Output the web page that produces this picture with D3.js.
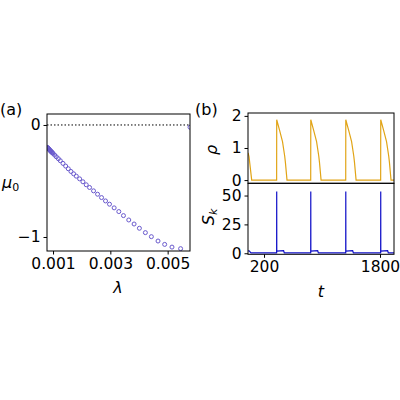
<!DOCTYPE html><html><head><script src="https://cdn.jsdelivr.net/npm/d3@7"></script>
<style>body{margin:0;background:#fff}text{font-family:"DejaVu Sans",sans-serif}</style></head><body>
<svg id="c" width="400" height="400"></svg>
<script>
const lam=[0.000800,0.000812,0.000826,0.000840,0.000855,0.000870,0.000884,0.000900,0.000915,0.000930,0.000942,0.000960,0.000980,0.001,0.001058,0.001116,0.001186,0.001255,0.001348,0.001441,0.001533,0.001626,0.001719,0.001812,0.001928,0.002043,0.002159,0.002275,0.002414,0.002554,0.002693,0.002832,0.002971,0.003133,0.003296,0.003458,0.003643,0.003829,0.004014,0.004223,0.004432,0.004664,0.004896,0.005151,0.005452,0.00578];
const mu=[-0.200,-0.203,-0.207,-0.211,-0.215,-0.219,-0.224,-0.228,-0.232,-0.236,-0.239,-0.244,-0.249,-0.254,-0.269,-0.284,-0.301,-0.319,-0.343,-0.367,-0.391,-0.415,-0.436,-0.457,-0.481,-0.507,-0.534,-0.558,-0.588,-0.618,-0.648,-0.678,-0.707,-0.740,-0.773,-0.809,-0.848,-0.884,-0.922,-0.961,-0.997,-1.036,-1.066,-1.090,-1.104,-0.02];
const lamTicks=[0.001,0.003,0.005], muTicks=[0,-1];
const tRho=[-20,-7,30,374,375,415,455,485,495,517,844,845,885,925,955,965,987,1327,1328,1368,1408,1438,1448,1470,1809,1810,1850,1890,1920,1930,1952,1995];
const rho=[0.85,0.73,0,0,1.88,1.55,1.2,0.75,0.55,0,0,1.88,1.55,1.2,0.75,0.55,0,0,1.88,1.55,1.2,0.75,0.55,0,0,1.88,1.55,1.2,0.75,0.55,0,0];
const tS=[-20,-5,20,30,374,375,376,380,420,470,480,490,844,845,846,850,890,940,950,960,1327,1328,1329,1333,1373,1423,1433,1443,1809,1810,1811,1815,1855,1905,1915,1925,1995];
const sk=[2,2,0.3,0.3,0.3,53.5,1.5,1.8,2.0,2.2,0.3,0.3,0.3,53.5,1.5,1.8,2.0,2.2,0.3,0.3,0.3,53.5,1.5,1.8,2.0,2.2,0.3,0.3,0.3,53.5,1.5,1.8,2.0,2.2,0.3,0.3,0.3];
const tTicks=[200,1800], rhoTicks=[0,1,2], skTicks=[0,25,50];
const svg=d3.select("#c");
const FS="15.5px";
function style(g){g.selectAll("text").style("font-size",FS).style("font-family","DejaVu Sans").attr("fill","#000");g.select(".domain").remove();g.selectAll("line").attr("stroke","#000");}
function frame(x0,y0,x1,y1){svg.append("rect").attr("x",x0).attr("y",y0).attr("width",x1-x0).attr("height",y1-y0).attr("fill","none").attr("stroke","#000").attr("stroke-width",1);}
const fmt=d=>d<0?"−"+Math.abs(d):String(d);
const xa=d3.scaleLinear().domain([0.00079,0.00578]).range([47,190]);
const ya=d3.scaleLinear().domain([0.098,-1.125]).range([114,251]);
const defs=svg.append("defs");
defs.append("clipPath").attr("id","ca").append("rect").attr("x",47).attr("y",114).attr("width",143).attr("height",137);
defs.append("clipPath").attr("id","cb1").append("rect").attr("x",248).attr("y",113).attr("width",146).attr("height",70.3);
defs.append("clipPath").attr("id","cb2").append("rect").attr("x",248).attr("y",183.3).attr("width",146).attr("height",71);
svg.append("line").attr("x1",47).attr("x2",190).attr("y1",ya(0)).attr("y2",ya(0)).attr("stroke","#000").attr("stroke-dasharray","1.5,2");
svg.append("g").attr("clip-path","url(#ca)").selectAll("circle").data(lam).join("circle").attr("cx",d=>xa(d)).attr("cy",(d,i)=>ya(mu[i])).attr("r",2).attr("fill","none").attr("stroke","#6a5acd").attr("stroke-width",1);
svg.append("g").attr("transform","translate(0,251)").call(d3.axisBottom(xa).tickValues(lamTicks).tickFormat(d3.format(".3f")).tickSize(3.5).tickPadding(3.5)).call(style);
svg.append("g").attr("transform","translate(47,0)").call(d3.axisLeft(ya).tickValues(muTicks).tickFormat(fmt).tickSize(3.5).tickPadding(3)).call(style);
frame(47,114,190,251);
svg.append("text").attr("x",0).attr("y",115).attr("font-size","16px").text("(a)");
svg.append("text").attr("x",2).attr("y",188).attr("font-size","16px").html('<tspan font-style="italic">μ</tspan><tspan font-size="11px" dy="3">0</tspan>');
svg.append("text").attr("x",118).attr("y",293).attr("font-size","16px").attr("font-style","italic").attr("text-anchor","middle").text("λ");
const xb=d3.scaleLinear().domain([-21,1993]).range([248,394]);
const yr=d3.scaleLinear().domain([2.09,-0.1]).range([113,183.3]);
const ys=d3.scaleLinear().domain([60.6,-0.9]).range([183.3,254.3]);
svg.append("path").datum(tRho).attr("d",d3.line().x(d=>xb(d)).y((d,i)=>yr(rho[i]))).attr("fill","none").attr("stroke","#e1a416").attr("stroke-width",1.2).attr("clip-path","url(#cb1)");
svg.append("path").datum(tS).attr("d",d3.line().x(d=>xb(d)).y((d,i)=>ys(sk[i]))).attr("fill","none").attr("stroke","#1010c8").attr("stroke-width",1.2).attr("clip-path","url(#cb2)");
svg.append("g").attr("transform","translate(248,0)").call(d3.axisLeft(yr).tickValues(rhoTicks).tickFormat(d3.format("d")).tickSize(3.5).tickPadding(3)).call(style);
svg.append("g").attr("transform","translate(248,0)").call(d3.axisLeft(ys).tickValues(skTicks).tickFormat(d3.format("d")).tickSize(3.5).tickPadding(3)).call(style);
svg.append("g").attr("transform","translate(0,254.3)").call(d3.axisBottom(xb).tickValues(tTicks).tickFormat(d3.format("d")).tickSize(3.5).tickPadding(3.5)).call(style);
frame(248,113,394,183.3);frame(248,183.3,394,254.3);
svg.append("text").attr("x",195).attr("y",115).attr("font-size","16px").text("(b)");
svg.append("text").attr("transform","translate(217,150) rotate(-90)").attr("text-anchor","middle").attr("font-size","16px").attr("font-style","italic").text("ρ");
svg.append("text").attr("transform","translate(214,217) rotate(-90)").attr("text-anchor","middle").attr("font-size","16px").html('<tspan font-style="italic">S</tspan><tspan font-style="italic" font-size="11px" dy="3">k</tspan>');
svg.append("text").attr("x",321).attr("y",297).attr("font-size","16px").attr("font-style","italic").attr("text-anchor","middle").text("t");
</script></body></html>
